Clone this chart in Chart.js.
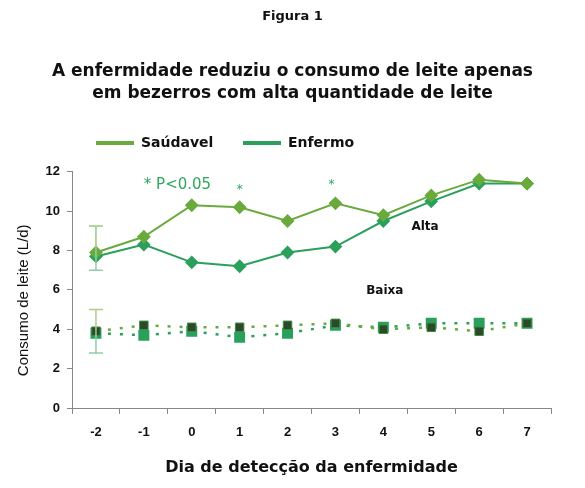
<!DOCTYPE html>
<html>
<head>
<meta charset="utf-8">
<script src="https://cdn.jsdelivr.net/npm/chart.js@4.4.1/dist/chart.umd.min.js"></script>
<style>
  html, body { margin: 0; padding: 0; background: #fff; }
  #wrap { width: 585px; height: 488px; }
</style>
</head>
<body>
<div id="wrap"><canvas id="chart"></canvas></div>
<script>
// dia de detecção
const days = ['-2', '-1', '0', '1', '2', '3', '4', '5', '6', '7'];

// alta quantidade de leite
const saudavelAlta = [7.9, 8.7, 10.3, 10.2, 9.5, 10.4, 9.8, 10.8, 11.6, 11.4];
const enfermoAlta = [7.7, 8.3, 7.4, 7.2, 7.9, 8.2, 9.5, 10.5, 11.4, 11.4];

// baixa quantidade de leite
const saudavelBaixa = [3.9, 4.2, 4.1, 4.1, 4.2, 4.3, 4.0, 4.1, 3.9, 4.3];
const enfermoBaixa = [3.8, 3.7, 3.9, 3.6, 3.8, 4.2, 4.1, 4.3, 4.3, 4.3];

// barras de erro no dia -2 : [min, max]
const erroAlta = [7.0, 9.25];
const erroBaixa = [2.8, 5.0];

const yTicks = [0, 2, 4, 6, 8, 10, 12];

// textos sobre o gráfico: [x (índice), y, texto]
const notes = [
    [1.0, 11.3, '* P<0.05', 'left', 15],
    [3, 11.1, '*', 'center', 12],
    [4.92, 11.35, '*', 'center', 12],
];
const labels = [
    [6.87, 9.2, 'Alta'],
    [6.03, 5.95, 'Baixa'],
];

const verdeClaro = '#6aaa3c';
const verde = '#2aa05c';

const extras = {
    id: 'extras',
    afterDatasetsDraw (chart) {
        const ctx = chart.ctx;
        const x = chart.scales.x;
        const y = chart.scales.y;
        ctx.save();

        // barras de erro
        const bar = (range, top, bottom) => {
            const px = x.getPixelForValue(0);
            const y0 = y.getPixelForValue(range[0]);
            const y1 = y.getPixelForValue(range[1]);
            ctx.lineWidth = 1.5;
            ctx.strokeStyle = top;
            ctx.beginPath();
            ctx.moveTo(px, (y0 + y1) / 2);
            ctx.lineTo(px, y1);
            ctx.moveTo(px - 7, y1);
            ctx.lineTo(px + 7, y1);
            ctx.stroke();
            ctx.strokeStyle = bottom;
            ctx.beginPath();
            ctx.moveTo(px, (y0 + y1) / 2);
            ctx.lineTo(px, y0);
            ctx.moveTo(px - 7, y0);
            ctx.lineTo(px + 7, y0);
            ctx.stroke();
        };
        bar(erroAlta, '#9ccb7a', '#8fcfa6');
        bar(erroBaixa, '#a8d08a', '#8fcfa6');

        // asteriscos
        ctx.fillStyle = '#2fa85c';
        ctx.textBaseline = 'middle';
        notes.forEach(n => {
            ctx.font = n[4] + 'px "DejaVu Sans"';
            ctx.textAlign = n[3];
            ctx.fillText(n[2], x.getPixelForValue(n[0]), y.getPixelForValue(n[1]));
        });

        ctx.fillStyle = '#111';
        ctx.font = 'bold 12px "DejaVu Sans"';
        ctx.textAlign = 'center';
        labels.forEach(l => {
            ctx.fillText(l[2], x.getPixelForValue(l[0]), y.getPixelForValue(l[1]));
        });

        // legenda
        const items = [
            [96, verdeClaro, chart.data.datasets[0].label],
            [243, verde, chart.data.datasets[1].label],
        ];
        ctx.font = 'bold 14px "DejaVu Sans"';
        ctx.textAlign = 'left';
        items.forEach(it => {
            ctx.strokeStyle = it[1];
            ctx.lineWidth = 4;
            ctx.beginPath();
            ctx.moveTo(it[0], 143);
            ctx.lineTo(it[0] + 38, 143);
            ctx.stroke();
            ctx.fillStyle = '#111';
            ctx.fillText(it[2], it[0] + 45, 143);
        });
        ctx.restore();
    }
};

const chartConfig = {
    type: 'line',
    data: {
        labels: days,
        datasets: [
            {
                label: 'Saúdavel',
                data: saudavelAlta,
                borderColor: verdeClaro,
                backgroundColor: verdeClaro,
                borderWidth: 2,
                pointStyle: 'rectRot',
                pointRadius: 5.5,
            },
            {
                label: 'Enfermo',
                data: enfermoAlta,
                borderColor: verde,
                backgroundColor: verde,
                borderWidth: 2,
                pointStyle: 'rectRot',
                pointRadius: 5.5,
            },
            {
                label: 'Saúdavel baixa',
                data: saudavelBaixa,
                borderColor: verdeClaro,
                backgroundColor: '#2b4a2c',
                pointBorderColor: '#3f8a3f',
                borderWidth: 2.5,
                borderDash: [3, 9],
                pointStyle: 'rect',
                pointRadius: 6,
                pointBorderWidth: 1,
            },
            {
                label: 'Enfermo baixa',
                data: enfermoBaixa,
                borderColor: verde,
                backgroundColor: verde,
                borderWidth: 2.5,
                borderDash: [3, 9],
                pointStyle: 'rect',
                pointRadius: 6,
            },
        ]
    },
    options: {
        responsive: true,
        maintainAspectRatio: false,
        animation: false,
        layout: {
            padding: 0
        },
        plugins: {
            legend: { display: false },
            tooltip: { enabled: false },
            title: {
                display: true,
                text: 'Figura 1',
                color: '#111',
                font: { family: 'DejaVu Sans', size: 13, weight: 'bold' },
                padding: { top: 9, bottom: 18 },
            },
            subtitle: {
                display: true,
                text: ['A enfermidade reduziu o consumo de leite apenas', 'em bezerros com alta quantidade de leite'],
                color: '#111',
                font: { family: 'DejaVu Sans', size: 17, weight: 'bold', lineHeight: 1.3 },
                padding: { top: 18, bottom: 67 },
            },
        },
        scales: {
            x: {
                offset: true,
                grid: {
                    offset: true,
                    drawOnChartArea: false,
                    drawTicks: true,
                    tickLength: 6,
                    color: '#888',
                },
                border: { color: '#888', width: 1 },
                ticks: {
                    color: '#111',
                    padding: 11,
                    font: { family: 'Liberation Sans', size: 13, weight: 'bold' },
                },
                title: {
                    display: true,
                    text: 'Dia de detecção da enfermidade',
                    color: '#111',
                    font: { family: 'DejaVu Sans', size: 16, weight: 'bold' },
                    padding: { top: 4, bottom: 11 },
                },
                afterFit (scale) { scale.height = 80; },
            },
            y: {
                min: 0,
                max: 12,
                afterBuildTicks (scale) {
                    scale.ticks = yTicks.map(v => ({ value: v }));
                },
                grid: {
                    drawOnChartArea: false,
                    drawTicks: true,
                    tickLength: 5,
                    color: '#888',
                },
                border: { color: '#888', width: 1 },
                ticks: {
                    color: '#111',
                    padding: 7,
                    font: { family: 'Liberation Sans', size: 13, weight: 'bold' },
                },
                title: {
                    display: true,
                    text: 'Consumo de leite (L/d)     ',
                    color: '#111',
                    font: { family: 'Liberation Sans', size: 15 },
                    padding: { top: 15, bottom: 4 },
                },
                afterFit (scale) { scale.width = 72; },
            },
            // espaço vazio à direita do gráfico
            yRight: {
                position: 'right',
                display: true,
                grid: { display: false },
                border: { display: false },
                ticks: { display: false },
                afterFit (scale) { scale.width = 34; },
            }
        }
    },
    plugins: [extras],
};

new Chart(document.getElementById('chart'), chartConfig);
</script>
</body>
</html>
